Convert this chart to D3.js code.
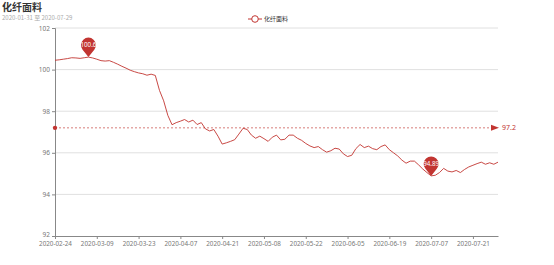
<html>
<head>
    <meta charset="utf-8">
    <script src="https://d3js.org/d3.v7.min.js"></script>
    <style>
        body { margin: 0; background: #fff; }
        text { font-family: "Noto Sans CJK SC", "Noto Sans", sans-serif; }
    </style>
</head>
<body>
    <svg id="chart" width="554" height="265"></svg>
    <script>
        const dates = [
            "2020-02-24", "2020-02-25", "2020-02-26", "2020-02-27", "2020-02-28",
            "2020-03-02", "2020-03-03", "2020-03-04", "2020-03-05", "2020-03-06",
            "2020-03-09", "2020-03-10", "2020-03-11", "2020-03-12", "2020-03-13",
            "2020-03-16", "2020-03-17", "2020-03-18", "2020-03-19", "2020-03-20",
            "2020-03-23", "2020-03-24", "2020-03-25", "2020-03-26", "2020-03-27",
            "2020-03-30", "2020-03-31", "2020-04-01", "2020-04-02", "2020-04-03",
            "2020-04-07", "2020-04-08", "2020-04-09", "2020-04-10", "2020-04-13",
            "2020-04-14", "2020-04-15", "2020-04-16", "2020-04-17", "2020-04-20",
            "2020-04-21", "2020-04-22", "2020-04-23", "2020-04-24", "2020-04-27",
            "2020-04-28", "2020-04-29", "2020-04-30", "2020-05-06", "2020-05-07",
            "2020-05-08", "2020-05-11", "2020-05-12", "2020-05-13", "2020-05-14",
            "2020-05-15", "2020-05-18", "2020-05-19", "2020-05-20", "2020-05-21",
            "2020-05-22", "2020-05-25", "2020-05-26", "2020-05-27", "2020-05-28",
            "2020-05-29", "2020-06-01", "2020-06-02", "2020-06-03", "2020-06-04",
            "2020-06-05", "2020-06-08", "2020-06-09", "2020-06-10", "2020-06-11",
            "2020-06-12", "2020-06-15", "2020-06-16", "2020-06-17", "2020-06-18",
            "2020-06-19", "2020-06-22", "2020-06-23", "2020-06-24", "2020-06-29",
            "2020-06-30", "2020-07-01", "2020-07-02", "2020-07-03", "2020-07-06",
            "2020-07-07", "2020-07-08", "2020-07-09", "2020-07-10", "2020-07-13",
            "2020-07-14", "2020-07-15", "2020-07-16", "2020-07-17", "2020-07-20",
            "2020-07-21", "2020-07-22", "2020-07-23", "2020-07-24", "2020-07-27",
            "2020-07-28", "2020-07-29"
        ];
        const values = [
            100.45, 100.47, 100.50, 100.53, 100.57, 100.56, 100.54, 100.57, 100.60, 100.56,
            100.50, 100.43, 100.41, 100.43, 100.35, 100.26, 100.16, 100.07, 99.97, 99.90,
            99.84, 99.80, 99.73, 99.78, 99.72, 99.00, 98.50, 97.80, 97.35, 97.45,
            97.52, 97.60, 97.48, 97.57, 97.36, 97.45, 97.15, 97.05, 97.12, 96.80,
            96.42, 96.48, 96.55, 96.63, 96.90, 97.18, 97.12, 96.85, 96.70, 96.80,
            96.68, 96.55, 96.75, 96.85, 96.62, 96.65, 96.85, 96.85, 96.70, 96.60,
            96.45, 96.33, 96.25, 96.30, 96.15, 96.03, 96.10, 96.22, 96.18, 95.95,
            95.82, 95.88, 96.20, 96.40, 96.25, 96.32, 96.20, 96.15, 96.30, 96.38,
            96.15, 96.00, 95.85, 95.65, 95.50, 95.60, 95.60, 95.42, 95.22, 95.05,
            94.89, 94.92, 95.05, 95.25, 95.12, 95.08, 95.15, 95.05, 95.20, 95.32,
            95.40, 95.48, 95.55, 95.45, 95.52, 95.45, 95.55, 95.46
        ];
        const yTicks = [92, 94, 96, 98, 100, 102];
        const avgValue = 97.2;
        const seriesName = "化纤面料";
        const titleText = "化纤面料";
        const subTitleText = "2020-01-31 至 2020-07-29";

        const red = "#c23531";
        const svg = d3.select("#chart");
        const gLeft = 55, gRight = 498, gTop = 28, gBottom = 236;

        const x = d3.scalePoint().domain(dates).range([gLeft, gRight]);
        const y = d3.scaleLinear().domain([92, 102]).range([gBottom, gTop]);

        // title
        svg.append("text").attr("x", 2).attr("y", 11)
            .attr("font-size", 10).attr("font-weight", "bold").attr("fill", "#333")
            .text(titleText);
        svg.append("text").attr("x", 2).attr("y", 20)
            .attr("font-size", 6).attr("fill", "#aaa")
            .text(subTitleText);

        // legend
        const lg = svg.append("g").attr("transform", "translate(248,19)");
        lg.append("line").attr("x1", 0).attr("x2", 14).attr("y1", 0).attr("y2", 0)
            .attr("stroke", red).attr("stroke-width", 1);
        lg.append("circle").attr("cx", 7).attr("cy", 0).attr("r", 3.3)
            .attr("fill", "#fff").attr("stroke", red).attr("stroke-width", 1);
        lg.append("text").attr("x", 16).attr("y", 2).attr("font-size", 6).attr("fill", "#333")
            .text(seriesName);

        // grid lines
        svg.append("g").selectAll("line").data(yTicks.filter(t => t !== 92)).join("line")
            .attr("x1", gLeft).attr("x2", gRight)
            .attr("y1", d => y(d)).attr("y2", d => y(d))
            .attr("stroke", "#e0e0e0").attr("stroke-width", 1);

        // y axis
        const yAxis = svg.append("g").attr("transform", `translate(${gLeft},0)`)
            .call(d3.axisLeft(y).tickValues(yTicks).tickSize(3).tickPadding(2));
        yAxis.select(".domain").attr("stroke", "#888");
        yAxis.selectAll(".tick line").attr("stroke", "#888");
        yAxis.selectAll("text").attr("fill", "#777").attr("font-size", 6.5)
            .style("font-family", "'Noto Sans', sans-serif");
        // lift the bottom label a little so it clears the first date
        yAxis.selectAll(".tick text").filter(d => d === 92).attr("dy", "0.1em");

        // x axis
        const xAxis = svg.append("g").attr("transform", `translate(0,${gBottom})`)
            .call(d3.axisBottom(x).tickValues(dates.filter((d, i) => i % 10 === 0))
                .tickSize(3).tickSizeOuter(0).tickPadding(2.5));
        xAxis.select(".domain").attr("stroke", "#888");
        xAxis.selectAll(".tick line").attr("stroke", "#888");
        xAxis.selectAll("text").attr("fill", "#777").attr("font-size", 6.3)
            .style("font-family", "'Noto Sans', sans-serif");

        // average mark line
        const ya = y(avgValue);
        svg.append("line").attr("x1", gLeft).attr("x2", gRight - 6).attr("y1", ya).attr("y2", ya)
            .attr("stroke", red).attr("stroke-width", 0.8).attr("stroke-dasharray", "2,2")
            .attr("opacity", 0.8);
        svg.append("circle").attr("cx", gLeft).attr("cy", ya).attr("r", 2.2).attr("fill", red);
        svg.append("path")
            .attr("d", `M${gRight - 7},${ya - 3} L${gRight + 1},${ya} L${gRight - 7},${ya + 3} Z`)
            .attr("fill", red);
        svg.append("text").attr("x", gRight + 4).attr("y", ya + 2.5)
            .attr("font-size", 7).attr("fill", red)
            .style("font-family", "'Noto Sans', sans-serif")
            .text(avgValue);

        // series line
        const line = d3.line().x((d, i) => x(dates[i])).y(d => y(d));
        svg.append("path").datum(values)
            .attr("d", line).attr("fill", "none")
            .attr("stroke", red).attr("stroke-width", 1).attr("opacity", 0.9);

        // max / min pins
        const maxI = d3.maxIndex(values), minI = d3.minIndex(values);
        function pin(i) {
            const px = x(dates[i]), py = y(values[i]);
            const r = 7.5, cy = py - 12;
            const d0 = py - cy;
            const a = Math.acos(r / d0);
            const tx = r * Math.sin(a), ty = r * Math.cos(a);
            const g = svg.append("g");
            g.append("path")
                .attr("d", `M${px},${py} L${px - tx},${cy + ty} A${r},${r} 0 1 1 ${px + tx},${cy + ty} Z`)
                .attr("fill", red);
            g.append("text").attr("x", px).attr("y", cy + 2.2)
                .attr("text-anchor", "middle").attr("font-size", 6.2).attr("fill", "#fff")
                .style("font-family", "'Noto Sans', sans-serif")
                .text(values[i]);
        }
        pin(maxI);
        pin(minI);
    </script>
</body>
</html>
